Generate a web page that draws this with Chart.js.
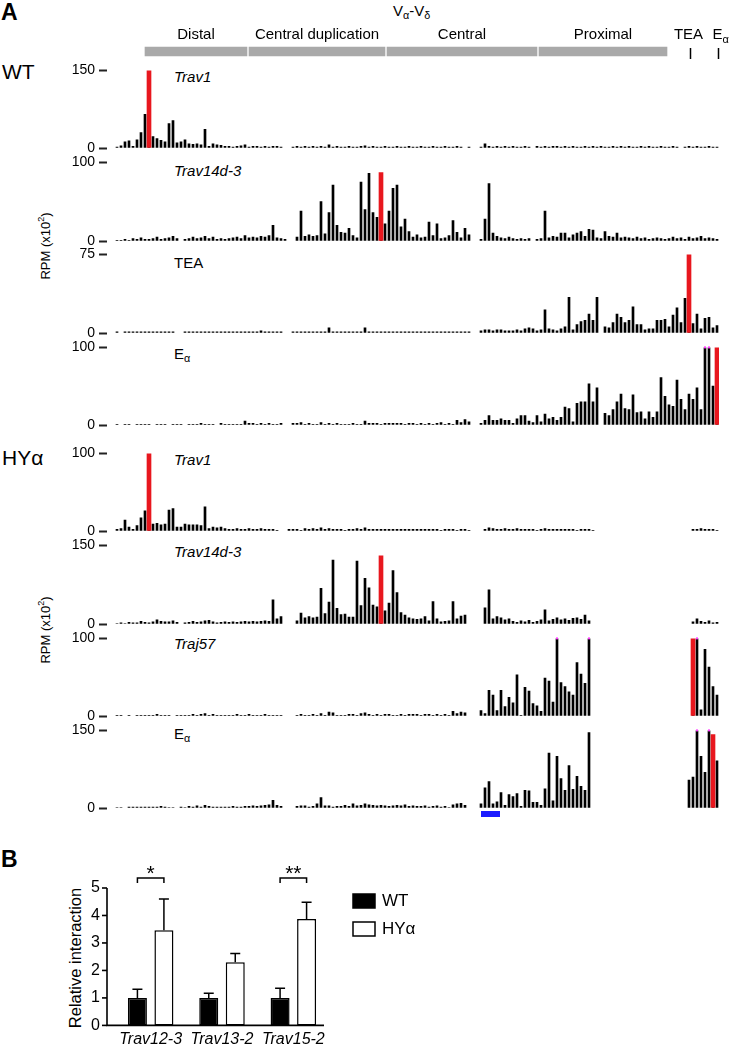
<!DOCTYPE html>
<html><head><meta charset="utf-8">
<script src="https://cdn.jsdelivr.net/npm/chart.js@4.4.1/dist/chart.umd.min.js"></script>
<style>
html,body{margin:0;padding:0;background:#fff}
body{width:734px;height:1050px;position:relative;overflow:hidden;font-family:"Liberation Sans",Arial,Helvetica,sans-serif;color:#000}
.t{position:absolute;white-space:nowrap;line-height:1}
.c{position:absolute;left:0}
sub{font-size:0.72em;vertical-align:-0.3em;line-height:0}
</style></head><body>
<script>
// ---------------- DATA ----------------
const bins = Array.from({length:153},(_, i)=>i); // genomic bins across the Tcra locus
const regionNames = ['Distal','Central duplication','Central','Proximal'];
const regionStart = [9, 35, 69.5, 107.5];
const regionEnd   = [34.5, 69, 107, 139.5];
const markerNames = ['TEA','E'];
const markerPos   = [145.25, 152.25];

const trackNames = ['Trav1','Trav14d-3','TEA','E','Trav1','Trav14d-3','Traj57','E'];
const trackMax   = [150,100,75,100,100,150,100,150];
const viewpointBin = [10,68,145,152,10,68,146,151];
const viewpointRPM = [150,87,75,100,100,130,100,142];
const blueRegion = [93, 97.75];

const wtTrav1 = [0,0,2,4,12,14,3,16,30,65, 20,22,18,15,12,47,53,10,12,16, 8,7,8,6,36,3,8,6,5,3,
 3,2,3,4,6,2,3,3,2,3, 2,3,3,2,0,0,2,3,2,3, 2,3,2,3,2,6,2,3,2,2, 3,2,2,3,4,2,3,2,2,3,
 2,2,3,2,2,3,2,2,3,2, 2,3,2,2,3,2,2,3,2,0, 2,0,0,2,8,3,2,3,2,3, 2,3,2,2,3,2,0,3,2,3,
 2,3,3,2,3,2,3,2,2,3, 2,3,2,3,2,2,3,2,3,2, 3,2,2,3,2,3,2,2,3,2, 2,3,2,0,2,3,2,3,2,2, 3,2,2];
const wtTrav14 = [0,0,1,1,2,1,3,2,4,2, 2,3,5,2,3,4,6,3,0,2, 3,5,3,4,6,3,5,2,3,2,
 3,4,5,3,7,4,5,4,6,5, 7,20,4,3,2,0,0,5,38,6, 8,6,7,50,9,36,71,20,11,10, 16,7,4,75,40,86,36,30,24,22,
 38,67,71,18,28,12,5,8,4,5, 24,7,22,3,4,7,26,11,4,16, 8,0,0,2,28,73,10,6,4,3, 5,3,2,3,2,3,0,2,3,38,
 4,6,5,10,10,4,8,10,12,6, 15,14,4,3,12,6,5,10,4,5, 4,3,5,3,4,2,3,4,3,2, 3,5,3,4,2,5,3,4,6,3, 4,3,2];
const wtTEA = [0,0,1,0,1,1,1,1,1,1, 1,1,1,1,1,1,1,0,0,1, 1,1,1,1,1,1,1,1,1,1,
 1,1,1,1,1,1,1,1,2,1, 1,1,1,1,0,0,1,1,1,1, 1,1,1,1,1,5,1,1,1,1, 1,1,1,1,5,1,1,1,1,1,
 1,1,1,1,1,1,1,1,1,1, 1,1,1,1,1,1,1,1,1,1, 1,0,0,2,3,3,2,3,3,2, 2,2,3,2,4,5,4,2,3,22,
 4,3,2,4,6,34,3,8,11,12, 18,12,34,0,6,5,10,18,15,10, 12,25,8,8,3,4,4,12,12,13, 6,17,24,10,33,9,9,18,4,14, 15,5,7];
const wtEa = [0,0,1,0,1,1,0,1,1,1, 1,0,1,1,1,0,1,1,1,0, 1,1,1,2,1,1,1,0,2,1,
 1,1,1,1,5,2,2,1,2,1, 2,1,1,2,0,0,2,2,3,1, 2,1,1,3,1,2,1,2,1,1, 1,2,1,1,5,2,2,2,1,2,
 2,2,2,2,1,2,2,1,2,1, 2,1,2,3,1,2,1,6,3,7, 4,0,0,2,6,12,6,6,8,6, 6,2,8,12,12,5,3,12,4,14,
 8,10,6,10,23,21,4,28,30,30, 53,30,48,0,15,12,20,30,40,21, 20,39,16,17,8,17,10,17,61,37, 26,24,58,33,20,40,33,48,20,110, 110,50,13];
const hyTrav1 = [0,0,2,3,14,5,2,7,17,26, 21,9,10,8,9,27,29,5,5,9, 8,8,8,7,31,3,5,4,5,3,
 2,2,3,2,2,3,2,2,3,2, 2,2,1,0,0,2,2,2,1,3, 2,3,2,4,2,3,2,2,2,1, 2,2,3,2,4,2,2,2,2,2,
 2,2,2,2,2,2,2,2,2,2, 2,2,2,1,2,2,2,1,2,2, 1,0,0,0,2,4,3,2,2,3, 2,2,3,2,2,2,2,1,2,3,
 2,2,2,2,2,2,2,1,2,2, 2,1,0,0,0,0,0,0,0,0, 0,0,0,0,0,0,0,0,0,0, 0,0,0,0,0,0,2,2,3,2, 2,2,1];
const hyTrav14 = [0,0,1,2,1,3,2,2,5,3, 2,4,8,5,4,4,6,3,0,2, 3,5,3,4,6,7,4,2,3,4,
 3,4,3,4,5,4,5,4,5,6, 5,46,10,14,0,0,0,6,21,12, 14,12,13,68,20,42,122,30,18,19, 13,13,120,35,87,69,36,33,25,25,
 40,102,60,22,17,12,10,9,10,14, 6,43,10,4,5,6,43,10,15,17, 0,0,0,0,31,65,10,14,12,8, 10,5,3,6,4,7,3,5,8,27,
 6,9,12,8,10,7,11,12,9,17, 6,0,0,0,0,0,0,0,0,0, 0,0,0,0,0,0,0,0,0,0, 0,0,0,0,0,0,4,10,5,3, 6,2,3];
const hyTraj57 = [0,0,1,1,0,1,0,1,1,1, 1,1,2,1,1,1,0,1,1,1, 1,2,1,2,3,1,2,1,1,1,
 1,1,2,1,1,2,1,1,1,2, 1,1,1,1,0,0,0,1,2,1, 1,2,1,3,1,5,4,1,1,1, 2,2,1,3,4,2,1,2,1,2,
 2,1,1,2,1,2,2,2,1,2, 2,1,2,1,2,1,6,3,5,4, 0,0,0,7,3,33,27,7,33,12, 24,17,53,1,37,32,16,13,6,49,
 45,18,105,43,38,31,27,69,54,42, 105,0,0,0,0,0,0,0,0,0, 0,0,0,0,0,0,0,0,0,0, 0,0,0,0,0,0,3,105,8,86, 63,38,27];
const hyEa = [0,0,1,1,0,2,2,2,2,2, 2,2,2,3,2,1,1,0,2,1, 3,2,4,2,5,3,2,2,2,2,
 2,3,2,2,3,3,4,3,4,5, 6,15,5,3,0,0,0,3,4,4, 2,3,8,20,4,4,2,3,3,5, 3,8,4,5,8,6,5,4,5,4,
 3,4,5,4,6,3,4,3,3,4, 2,3,4,2,3,1,6,8,9,5, 0,0,0,8,39,51,8,12,30,5, 26,22,28,3,34,33,11,11,5,37,
 106,14,100,57,34,82,36,61,42,34, 146,0,0,0,0,0,0,0,0,0, 0,0,0,0,0,0,0,0,0,0, 0,0,0,0,0,54,60,155,100,69, 155,5,91];
const tracks = [wtTrav1, wtTrav14, wtTEA, wtEa, hyTrav1, hyTrav14, hyTraj57, hyEa];

// Panel B
const genes = ['Trav12-3','Trav13-2','Trav15-2'];
const wtMean = [1.0, 1.0, 1.0];
const wtSD   = [0.32, 0.17, 0.35];
const hyMean = [3.46, 2.3, 3.87];
const hySD   = [1.14, 0.32, 0.61];
const sigMarks = ['*','','**'];
const seriesNames = ['WT','HY\u03b1'];

// ---------------- LAYOUT / STYLE ----------------
const FONT = '"Liberation Sans", Arial, Helvetica, sans-serif';
Chart.defaults.font.family = FONT;
Chart.defaults.color = '#000';
const trackTop    = [68,160,252,345,451,543,636,728];
const trackBottom = [148,241,333,425,531,624,716,808];
const PADT = 10, PADB = 14;

function addText(html, x, cy, size, extra){
  const d = document.createElement('div');
  d.className = 't';
  d.innerHTML = html;
  d.style.left = x + 'px';
  d.style.top = (cy - 0.5*size - 0.5) + 'px';
  d.style.fontSize = size + 'px';
  if (extra) Object.assign(d.style, extra);
  document.body.appendChild(d);
  return d;
}
function addCanvas(top, w, h){
  const c = document.createElement('canvas');
  c.className = 'c'; c.width = w; c.height = h;
  c.style.top = top + 'px'; c.style.width = w + 'px'; c.style.height = h + 'px';
  document.body.appendChild(c);
  return c;
}

// texts
addText('<b>A</b>', 1, 13, 23);
addText('<b>B</b>', 1, 860, 23);
addText('V<sub>\u03b1</sub>-V<sub>\u03b4</sub>', 393, 11, 15);
addText('WT', 2, 72, 21);
addText('HY\u03b1', 2, 458, 21);
const labelCY = [77,171,263,354,460,552,644,734];
trackNames.forEach((n,k)=>{
  let html = n;
  let st = {};
  if (n.startsWith('Tra')) st.fontStyle = 'italic';
  if (n === 'E') html = 'E<sub>\u03b1</sub>';
  addText(html, 174, labelCY[k], 15, st);
});
function rotText(html, cx, cy, size){
  const d = addText(html, 0, 0, size);
  d.style.left = cx + 'px'; d.style.top = cy + 'px';
  d.style.transform = 'translate(-50%,-50%) rotate(-90deg)';
  return d;
}
rotText('RPM (x10<sup style="font-size:0.7em;line-height:0">2</sup>)', 45, 246, 13);
rotText('RPM (x10<sup style="font-size:0.7em;line-height:0">2</sup>)', 45, 630, 13);
rotText('Relative interaction', 75, 958, 16.5);

// header chart: region bars
const headerPlugin = {
  id:'headerPlugin',
  afterDatasetsDraw(chart){
    const {ctx, scales:{x}} = chart;
    ctx.save();
    ctx.fillStyle = '#000';
    ctx.font = '15px ' + FONT;
    ctx.textAlign = 'center'; ctx.textBaseline = 'alphabetic';
    chart.data.datasets.forEach(ds=>{
      const [a,b] = ds.data[0];
      const cx = (x.getPixelForValue(a) + x.getPixelForValue(b))/2;
      ctx.fillText(ds.label, cx, 39);
    });
    ctx.strokeStyle = '#000'; ctx.lineWidth = 1.5;
    markerNames.forEach((n,k)=>{
      const px = Math.round(x.getPixelForValue(markerPos[k])) + 0.5;
      ctx.beginPath(); ctx.moveTo(px, 48); ctx.lineTo(px, 59); ctx.stroke();
      if (n === 'E'){
        ctx.textAlign = 'left';
        ctx.font = '15px ' + FONT;
        ctx.fillText('E', px - 6, 39);
        ctx.font = '11px ' + FONT;
        ctx.fillText('\u03b1', px + 4, 43);
      } else {
        ctx.textAlign = 'center';
        ctx.font = '15px ' + FONT;
        ctx.fillText(n, px - 2, 39);
      }
    });
    ctx.restore();
  }
};
new Chart(addCanvas(0, 734, 63), {
  type:'bar',
  data:{labels:['locus'], datasets: regionNames.map((n,k)=>({label:n, data:[[regionStart[k], regionEnd[k]]], backgroundColor:'#a9a9a9', barThickness:9, grouped:false}))},
  options:{indexAxis:'y', responsive:false, animation:false, events:[],
    layout:{padding:{left:107,right:15,top:40,bottom:0}},
    plugins:{legend:{display:false}, tooltip:{enabled:false}},
    scales:{x:{type:'linear', min:-0.5, max:152.5, display:false}, y:{display:false}}},
  plugins:[headerPlugin]
});

// tracks
const trackPlugin = {
  id:'trackPlugin',
  afterDatasetsDraw(chart, args, opts){
    const {ctx, chartArea, scales:{x,y}} = chart;
    const meta = chart.getDatasetMeta(1);
    const vals = chart.data.datasets[1].data;
    ctx.save();
    ctx.fillStyle = '#ff3cff';
    meta.data.forEach((el,i)=>{ if (vals[i] !== null && vals[i] > y.max) ctx.fillRect(el.x-1, chartArea.top-1, 2, 2); });
    if (opts && opts.region){
      const x0 = x.getPixelForValue(opts.region[0]), x1 = x.getPixelForValue(opts.region[1]);
      ctx.fillStyle = '#1b1bff';
      ctx.fillRect(x0, chartArea.bottom + 3, x1 - x0, 6);
    }
    ctx.restore();
  }
};
tracks.forEach((vals,k)=>{
  const h = trackBottom[k] - trackTop[k] + PADT + PADB;
  const cv = addCanvas(trackTop[k] - PADT, 734, h);
  const red = bins.map(i => i === viewpointBin[k] ? viewpointRPM[k] : null);
  const black = vals.map(v => v > 0 ? v : null); // bins without reads draw nothing
  const max = trackMax[k];
  new Chart(cv, {
    type:'bar',
    data:{labels:bins, datasets:[
      {data:red, backgroundColor:'#e8171e', barThickness:4, grouped:false},
      {data:black, backgroundColor:'#000', barThickness:2, grouped:false}
    ]},
    options:{responsive:false, animation:false, events:[],
      layout:{padding:{top:PADT,bottom:PADB,left:0,right:15}},
      plugins:{legend:{display:false}, tooltip:{enabled:false}, trackPlugin:{region: k===7 ? blueRegion : null}},
      scales:{
        x:{display:false},
        y:{min:0, max:max,
           afterFit(s){ s.width = 107; },
           afterBuildTicks(s){ s.ticks = [{value:0},{value:max}]; },
           border:{display:false},
           grid:{drawOnChartArea:false, drawTicks:true, tickLength:8, tickWidth:2, tickColor:'#222', color:'#222'},
           ticks:{padding:4, color:'#000', font:{size:14, family:FONT}}}
      }},
    plugins:[trackPlugin]
  });
});

// Panel B
const barPlugin = {
  id:'barPlugin',
  afterDatasetsDraw(chart){
    const {ctx, chartArea:ca, scales:{x,y}} = chart;
    ctx.save();
    ctx.strokeStyle = '#000'; ctx.lineWidth = 1.6; ctx.lineCap = 'butt';
    const ax = ca.left - 8;
    ctx.beginPath();
    ctx.moveTo(ax, y.getPixelForValue(y.max)); ctx.lineTo(ax, ca.bottom); ctx.lineTo(ca.right - 5, ca.bottom);
    ctx.stroke();
    y.ticks.forEach(t=>{ const py = y.getPixelForValue(t.value); ctx.beginPath(); ctx.moveTo(ax-5, py); ctx.lineTo(ax, py); ctx.stroke(); });
    // error bars
    ctx.lineWidth = 1.5;
    chart.data.datasets.forEach((ds,d)=>{
      chart.getDatasetMeta(d).data.forEach((el,i)=>{
        const top = y.getPixelForValue(ds.data[i] + ds.sd[i]);
        ctx.beginPath(); ctx.moveTo(el.x, el.y); ctx.lineTo(el.x, top);
        ctx.moveTo(el.x - 5, top); ctx.lineTo(el.x + 5, top); ctx.stroke();
      });
    });
    // significance
    const m0 = chart.getDatasetMeta(0).data, m1 = chart.getDatasetMeta(1).data;
    sigMarks.forEach((s,i)=>{
      if (!s) return;
      const x1 = m0[i].x, x2 = m1[i].x, yb = ca.top - 10;
      ctx.beginPath(); ctx.moveTo(x1, yb + 5); ctx.lineTo(x1, yb); ctx.lineTo(x2, yb); ctx.lineTo(x2, yb + 5); ctx.stroke();
      ctx.fillStyle = '#000'; ctx.font = '21px ' + FONT; ctx.textAlign = 'center'; ctx.textBaseline = 'alphabetic';
      ctx.fillText(s, (x1 + x2)/2, yb + 2);
    });
    // legend
    chart.data.datasets.forEach((ds,d)=>{
      const lx = 353, ly = 894 - 840 + d*28;
      ctx.fillStyle = ds.backgroundColor; ctx.fillRect(lx, ly, 22, 14);
      ctx.strokeRect(lx, ly, 22, 14);
      ctx.fillStyle = '#000'; ctx.font = '17px ' + FONT; ctx.textAlign = 'left'; ctx.textBaseline = 'middle';
      ctx.fillText(ds.label, lx + 29, ly + 7.5);
    });
    ctx.restore();
  }
};
new Chart(addCanvas(840, 460, 210), {
  type:'bar',
  data:{labels:genes, datasets:[
    {label:seriesNames[0], data:wtMean, sd:wtSD, backgroundColor:'#000', borderColor:'#000', borderWidth:1.5, borderSkipped:false},
    {label:seriesNames[1], data:hyMean, sd:hySD, backgroundColor:'#fff', borderColor:'#000', borderWidth:1.5, borderSkipped:false}
  ]},
  options:{responsive:false, animation:false, events:[],
    categoryPercentage:0.743, barPercentage:0.717,
    layout:{padding:{top:48,right:131,left:0,bottom:0}},
    plugins:{legend:{display:false}, tooltip:{enabled:false}},
    scales:{
      x:{afterFit(s){ s.height = 20; }, border:{display:false}, grid:{display:false, drawTicks:false},
         ticks:{padding:5, color:'#000', font:{size:16, style:'italic', family:FONT}}},
      y:{min:0, max:5, afterFit(s){ s.width = 115; }, border:{display:false}, grid:{display:false, drawTicks:false},
         ticks:{stepSize:1, padding:15, color:'#000', font:{size:16, family:FONT}}}
    }},
  plugins:[barPlugin]
});
</script>
</body></html>
